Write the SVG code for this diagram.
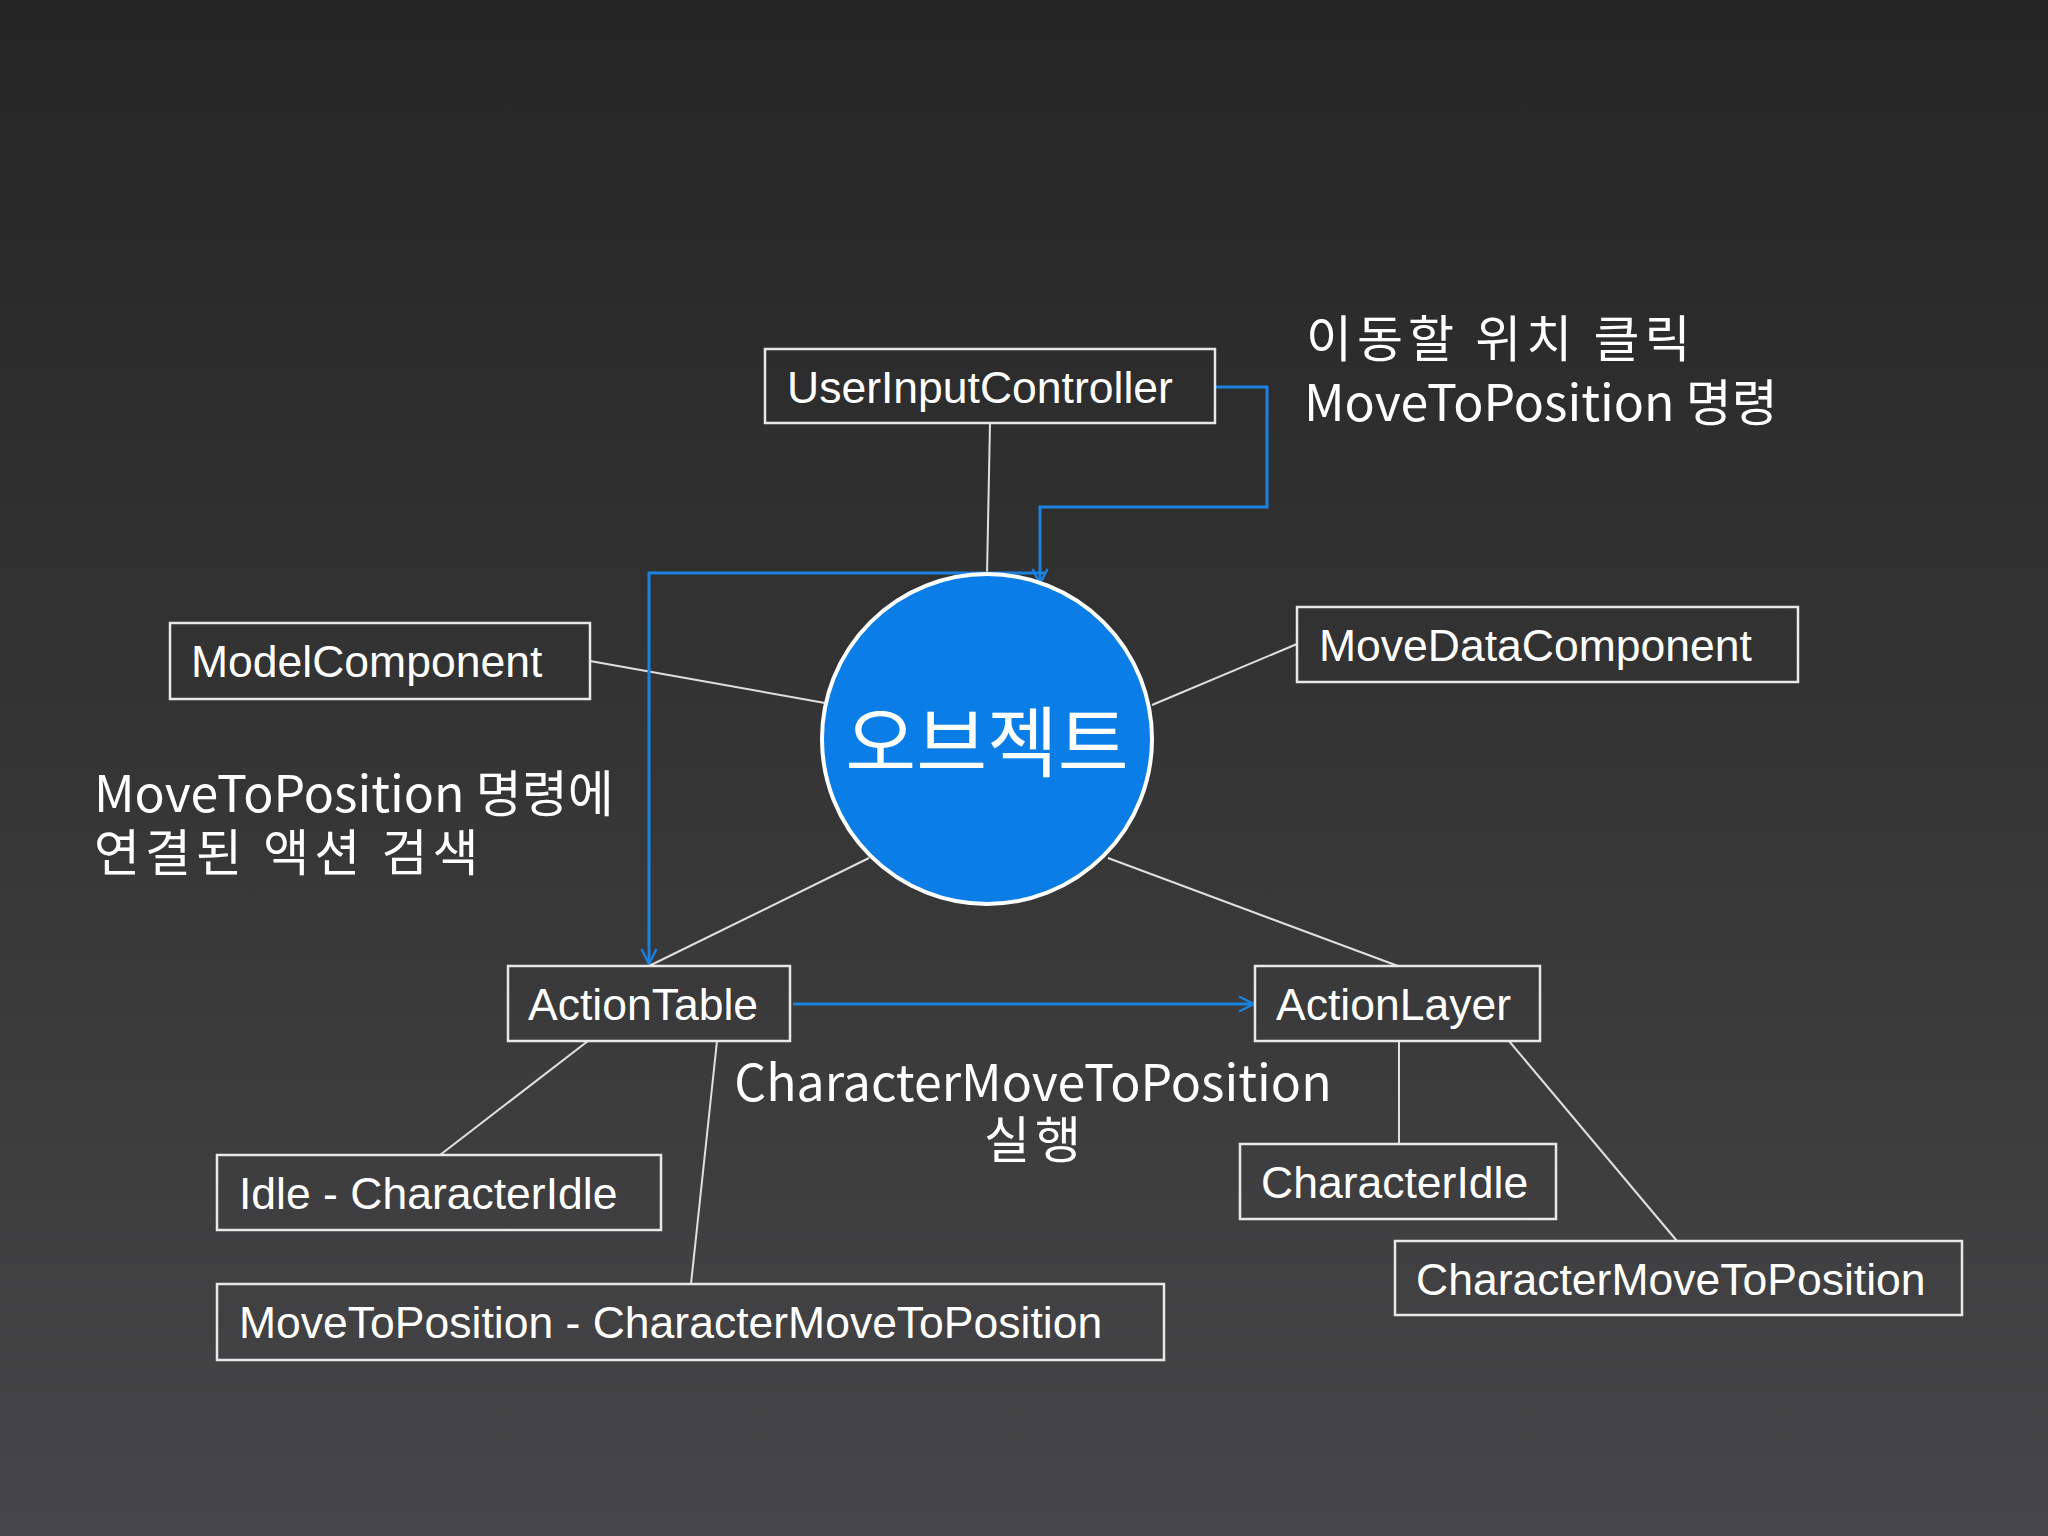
<svg xmlns="http://www.w3.org/2000/svg" width="2048" height="1536" viewBox="0 0 2048 1536">
<defs>
<linearGradient id="bg" x1="0" y1="0" x2="0" y2="1"><stop offset="0" stop-color="#252525"/><stop offset="1" stop-color="#464547"/></linearGradient>
<marker id="ar" viewBox="0 0 12 12" refX="11" refY="6" markerWidth="18" markerHeight="18" markerUnits="userSpaceOnUse" orient="auto"><path d="M1,1 L11,6 L1,11" fill="none" stroke="#1a82e0" stroke-width="1.6"/></marker>
<style>
.box{fill:none;stroke:#e8e8e8;stroke-width:2.5}
.t{font-family:"Liberation Sans","Noto Sans CJK KR",sans-serif;font-size:44.5px;fill:#fff}
.k{font-family:"Noto Sans CJK KR",sans-serif;font-size:50px;fill:#fff}
.ks{letter-spacing:5px}
.ln{stroke:#e0e0e0;stroke-width:2;fill:none}
.bl{stroke:#1a82e0;stroke-width:3;fill:none;marker-end:url(#ar)}
</style>
</defs>
<rect width="2048" height="1536" fill="url(#bg)"/>
<g id="connectors">
<line class="ln" x1="990" y1="423" x2="987" y2="575"/>
<line class="ln" x1="590" y1="661" x2="825" y2="703"/>
<line class="ln" x1="1297" y1="644" x2="1152" y2="705"/>
<line class="ln" x1="649" y1="966" x2="869" y2="858"/>
<line class="ln" x1="1398" y1="966" x2="1108" y2="858"/>
<line class="ln" x1="588" y1="1041" x2="440" y2="1155"/>
<line class="ln" x1="717" y1="1041" x2="691" y2="1284"/>
<line class="ln" x1="1399" y1="1041" x2="1399" y2="1144"/>
<line class="ln" x1="1509" y1="1041" x2="1677" y2="1241"/>
<polyline class="bl" points="1215,387 1267,387 1267,507 1040,507 1040,584"/>
<polyline class="bl" points="1045,573 649,573 649,964"/>
<polyline class="bl" points="793,1004 1254,1004"/>
</g>
<g id="object"><circle cx="987" cy="739" r="165" fill="#0a7ee6" stroke="#fff" stroke-width="4"/><text x="987" y="750" text-anchor="middle" font-family="Noto Sans CJK KR,sans-serif" font-size="77" fill="#fff" dominant-baseline="middle">오브젝트</text></g>
<g id="uic"><rect class="box" x="765" y="349" width="450" height="74"/><text class="t" x="787" y="403">UserInputController</text></g>
<g id="model"><rect class="box" x="170" y="623" width="420" height="76"/><text class="t" x="191" y="677">ModelComponent</text></g>
<g id="movedata"><rect class="box" x="1297" y="607" width="501" height="75"/><text class="t" x="1319" y="661">MoveDataComponent</text></g>
<g id="actiontable"><rect class="box" x="508" y="966" width="282" height="75"/><text class="t" x="528" y="1020">ActionTable</text></g>
<g id="actionlayer"><rect class="box" x="1255" y="966" width="285" height="75"/><text class="t" x="1276" y="1020">ActionLayer</text></g>
<g id="idle"><rect class="box" x="217" y="1155" width="444" height="75"/><text class="t" x="239" y="1209">Idle - CharacterIdle</text></g>
<g id="mtp"><rect class="box" x="217" y="1284" width="947" height="76"/><text class="t" x="239" y="1338">MoveToPosition - CharacterMoveToPosition</text></g>
<g id="charidle"><rect class="box" x="1240" y="1144" width="316" height="75"/><text class="t" x="1261" y="1198">CharacterIdle</text></g>
<g id="charmtp"><rect class="box" x="1395" y="1241" width="567" height="74"/><text class="t" x="1416" y="1295">CharacterMoveToPosition</text></g>
<g id="labels">
<text class="k ks" x="1306" y="357">이동할 위치 클릭</text>
<text class="k" x="1304" y="421">MoveToPosition 명령</text>
<text class="k" x="94" y="812">MoveToPosition 명령에</text>
<text class="k ks" x="94" y="871">연결된 액션 검색</text>
<text class="k" x="1033" y="1101" text-anchor="middle">CharacterMoveToPosition</text>
<text class="k ks" x="1035" y="1158" text-anchor="middle">실행</text>
</g>
</svg>
